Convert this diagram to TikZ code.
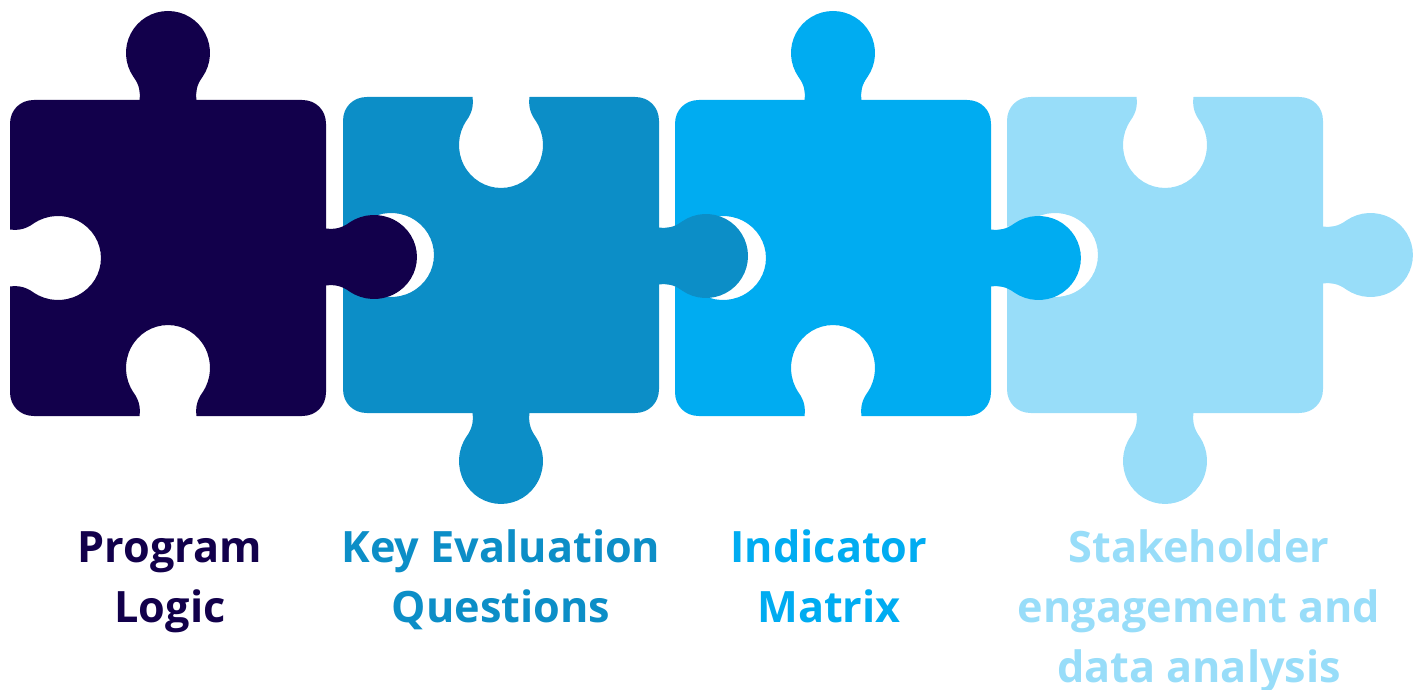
\documentclass[tikz,border=0pt]{standalone}
\usepackage{fontspec}
\setmainfont{Open Sans}
\definecolor{cdark}{RGB}{18,0,75}
\definecolor{cmid}{RGB}{12,142,199}
\definecolor{cbright}{RGB}{0,172,241}
\definecolor{clight}{RGB}{152,221,249}
% one knob or notch, in a frame given by #1: local x along the edge, local y away from the edge
\newcommand\feat[1]{ -- ([#1]-28.5,0)
 .. controls ([#1]-27.5,8) and ([#1]-28.5,15) .. ([#1]-34.66,23.27)
 .. controls ([#1]-43.47,36.14) and ([#1]-44.43,52.79) .. ([#1]-37.15,66.59)
 .. controls ([#1]-29.87,80.39) and ([#1]-15.6,89) .. ([#1]0,89)
 .. controls ([#1]15.6,89) and ([#1]29.87,80.39) .. ([#1]37.15,66.59)
 .. controls ([#1]44.43,52.79) and ([#1]43.47,36.14) .. ([#1]34.66,23.27)
 .. controls ([#1]28.5,15) and ([#1]27.5,8) .. ([#1]28.5,0) }
\newcommand\Top[3]{\feat{shift={(#1,{689-(#2)})},yscale=#3}}
\newcommand\Rgt[3]{\feat{shift={(#1,{689-(#2)})},rotate=-90,yscale=#3}}
\newcommand\Bot[3]{\feat{shift={(#1,{689-(#2)})},rotate=180,yscale=#3}}
\newcommand\Lft[3]{\feat{shift={(#1,{689-(#2)})},rotate=90,yscale=#3}}
% #1 left, #2 top (screen px), #3 colour, #4..#7 the four edge features
\newcommand\piece[7]{
 \fill[#3] ({#1},{689-(#2)-24})
  .. controls ({#1},{689-(#2)-10}) and ({#1+10},{689-(#2)}) .. ({#1+24},{689-(#2)})
  #4 -- ({#1+292},{689-(#2)})
  .. controls ({#1+306},{689-(#2)}) and ({#1+316},{689-(#2)-10}) .. ({#1+316},{689-(#2)-24})
  #5 -- ({#1+316},{689-(#2)-292})
  .. controls ({#1+316},{689-(#2)-306}) and ({#1+306},{689-(#2)-316}) .. ({#1+292},{689-(#2)-316})
  #6 -- ({#1+24},{689-(#2)-316})
  .. controls ({#1+10},{689-(#2)-316}) and ({#1},{689-(#2)-306}) .. ({#1},{689-(#2)-292})
  #7 -- cycle;
}
\tikzset{label text/.style={font=\bfseries\fontsize{43.2}{60}\selectfont,align=center,anchor=base}}
\begin{document}
\begin{tikzpicture}[x=1pt,y=1pt]
\useasboundingbox (0,0) rectangle (1423,689);
\piece{1007}{97}{clight}{\Top{1165}{97}{-1.022}}{\Rgt{1323}{255}{1.01}}{\Bot{1165}{413}{1.022}}{\Lft{1007}{255}{-1.022}}
\piece{675}{100}{cbright}{\Top{833}{100}{1}}{\Rgt{991}{258}{1.01}}{\Bot{833}{416}{-1.022}}{\Lft{675}{258}{-1.022}}
\piece{343}{97}{cmid}{\Top{501}{97}{-1.022}}{\Rgt{659}{256}{1}}{\Bot{501}{413}{1.022}}{\Lft{343}{255}{-1.022}}
\piece{10}{100}{cdark}{\Top{168}{100}{1}}{\Rgt{326}{257}{1.022}}{\Bot{168}{416}{-1.022}}{\Lft{10}{258}{-1.022}}
\node[label text,text=cdark] (logic) at (170,{689-562}) {Program};
\node[label text,text=cdark] (logic2) at (170,{689-622}) {Logic};
\node[label text,text=cmid] (keq) at (501,{689-562}) {Key Evaluation};
\node[label text,text=cmid] (keq2) at (501,{689-622}) {Questions};
\node[label text,text=cbright] (im) at (829,{689-562}) {Indicator};
\node[label text,text=cbright] (im2) at (829,{689-622}) {Matrix};
\node[label text,text=clight] (se) at (1199,{689-562}) {Stakeholder};
\node[label text,text=clight] (se2) at (1199,{689-622}) {engagement and};
\node[label text,text=clight] (se3) at (1199,{689-682}) {data analysis};
\end{tikzpicture}
\end{document}
